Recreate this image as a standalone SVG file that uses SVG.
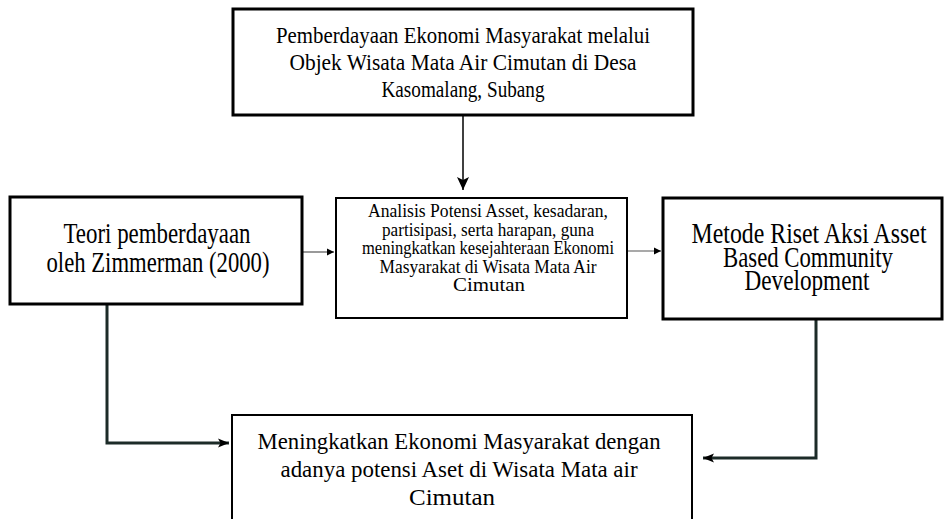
<svg xmlns="http://www.w3.org/2000/svg" width="944" height="519" viewBox="0 0 944 519">
<style>
.box{fill:#fff;stroke:#000;stroke-width:3}
.thin{stroke-width:2}
.t{font-family:"Liberation Serif","Times New Roman",serif;fill:#000;text-anchor:middle}
.c{fill:none}
</style>
<defs>
<marker id="ah" markerUnits="userSpaceOnUse" markerWidth="14" markerHeight="12" refX="13" refY="6" orient="auto"><path d="M0,0 L13,6 L0,12 L3,6 Z" fill="#000"/></marker>
<marker id="as" markerUnits="userSpaceOnUse" markerWidth="8" markerHeight="8" refX="7" refY="4" orient="auto"><path d="M0,0.5 L7,4 L0,7.5 Z" fill="#000"/></marker>
<marker id="am" markerUnits="userSpaceOnUse" markerWidth="12" markerHeight="10" refX="11" refY="5" orient="auto"><path d="M0,0.5 L11,5 L0,9.5 L2.5,5 Z" fill="#000"/></marker>
</defs>
<rect width="944" height="519" fill="#fff"/>
<g id="connectors" class="c">
<line x1="463" y1="116" x2="463" y2="190" stroke="#000" stroke-width="1.5" marker-end="url(#ah)"/>
<line x1="302" y1="252" x2="334" y2="252" stroke="#555" stroke-width="1.2" marker-end="url(#as)"/>
<line x1="627" y1="251" x2="661" y2="251" stroke="#555" stroke-width="1.2" marker-end="url(#as)"/>
<path d="M107,304 V443 H229" stroke="#1c2b28" stroke-width="3" marker-end="url(#am)"/>
<path d="M816,320 V458 H703" stroke="#1c2b28" stroke-width="3" marker-end="url(#am)"/>
</g>
<g id="n-top">
<rect class="box" x="233" y="9" width="460" height="106"/>
<text class="t" font-size="23"><tspan x="463" y="43" textLength="374" lengthAdjust="spacingAndGlyphs">Pemberdayaan Ekonomi Masyarakat melalui</tspan><tspan x="463" y="70" textLength="347" lengthAdjust="spacingAndGlyphs">Objek Wisata Mata Air Cimutan di Desa</tspan><tspan x="463" y="97" textLength="163" lengthAdjust="spacingAndGlyphs">Kasomalang, Subang</tspan></text>
</g>
<g id="n-left">
<rect class="box" x="10" y="197" width="292" height="107"/>
<text class="t" font-size="30"><tspan x="157" y="243" textLength="187" lengthAdjust="spacingAndGlyphs">Teori pemberdayaan</tspan><tspan x="158" y="272" textLength="223" lengthAdjust="spacingAndGlyphs">oleh Zimmerman (2000)</tspan></text>
</g>
<g id="n-mid">
<rect class="box thin" x="336" y="198" width="291" height="120"/>
<text class="t" font-size="18"><tspan x="488" y="217" textLength="240" lengthAdjust="spacingAndGlyphs">Analisis Potensi Asset, kesadaran,</tspan><tspan x="488" y="235.5" textLength="212" lengthAdjust="spacingAndGlyphs">partisipasi, serta harapan, guna</tspan><tspan x="488" y="254" textLength="252" lengthAdjust="spacingAndGlyphs">meningkatkan kesejahteraan Ekonomi</tspan><tspan x="488" y="272.5" textLength="217" lengthAdjust="spacingAndGlyphs">Masyarakat di Wisata Mata Air</tspan><tspan x="489" y="291" textLength="72" lengthAdjust="spacingAndGlyphs">Cimutan</tspan></text>
</g>
<g id="n-right">
<rect class="box" x="663" y="198" width="279" height="121"/>
<text class="t" font-size="30"><tspan x="809" y="243" textLength="235" lengthAdjust="spacingAndGlyphs">Metode Riset Aksi Asset</tspan><tspan x="808" y="267" textLength="170" lengthAdjust="spacingAndGlyphs">Based Community</tspan><tspan x="807" y="290" textLength="125" lengthAdjust="spacingAndGlyphs">Development</tspan></text>
</g>
<g id="n-bottom">
<rect class="box thin" x="232" y="415" width="460" height="115"/>
<text class="t" font-size="24"><tspan x="459" y="449" textLength="403" lengthAdjust="spacingAndGlyphs">Meningkatkan Ekonomi Masyarakat dengan</tspan><tspan x="459" y="477" textLength="357" lengthAdjust="spacingAndGlyphs">adanya potensi Aset di Wisata Mata air</tspan><tspan x="452" y="505" textLength="86" lengthAdjust="spacingAndGlyphs">Cimutan</tspan></text>
</g>
</svg>
